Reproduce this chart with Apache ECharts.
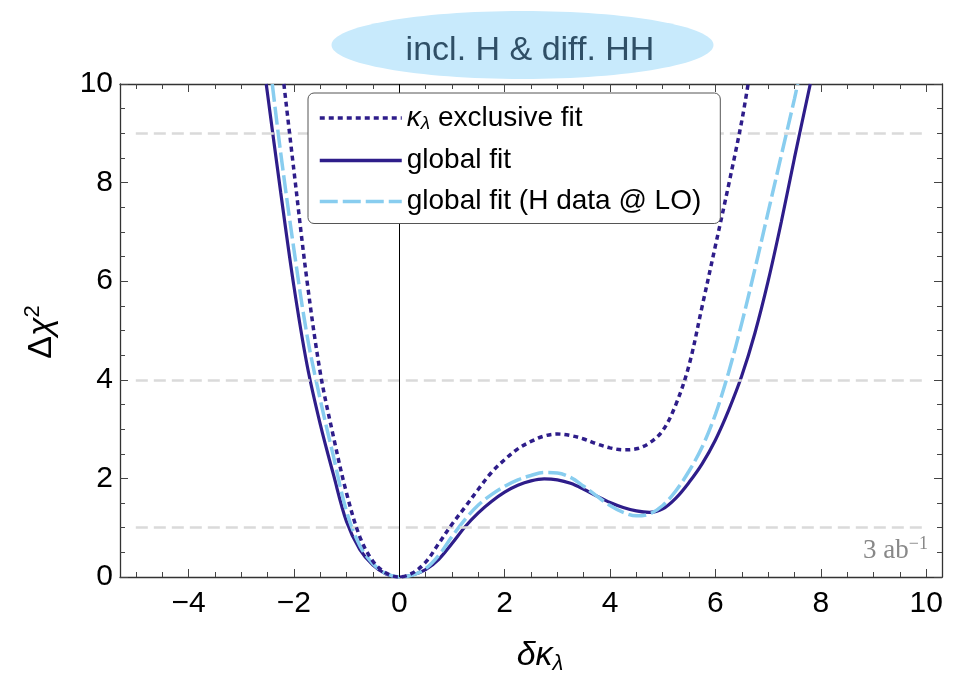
<!DOCTYPE html>
<html>
<head>
<meta charset="utf-8">
<script src="https://cdn.jsdelivr.net/npm/echarts@6/dist/echarts.min.js"></script>
<style>
  html, body { margin: 0; padding: 0; background: #fff; }
  #chart { width: 959px; height: 676px; }
</style>
</head>
<body>
<div id="chart"></div>
<script>
// Δχ² profiles versus δκλ (3 ab⁻¹)
const exclusiveX = [-2.19, -2.0, -1.75, -1.5, -1.25, -1.0, -0.75, -0.5, -0.25, 0, 0.25, 0.5, 0.75, 1.0, 1.25, 1.5, 1.75, 2.0, 2.25, 2.5, 2.75, 3.0, 3.25, 3.5, 3.75, 4.0, 4.25, 4.5, 4.75, 5.0, 5.25, 5.5, 5.75, 6.0, 6.25, 6.5, 6.62];
const exclusiveY = [10, 8.25, 6.0, 4.15, 2.85, 1.7, 0.82, 0.32, 0.08, 0, 0.08, 0.3, 0.68, 1.07, 1.42, 1.78, 2.12, 2.38, 2.6, 2.75, 2.86, 2.9, 2.87, 2.8, 2.7, 2.62, 2.58, 2.6, 2.72, 2.97, 3.5, 4.3, 5.5, 6.72, 7.95, 9.25, 10];

const globalX = [-2.525, -2.5, -2.25, -2.0, -1.75, -1.5, -1.25, -1.0, -0.75, -0.5, -0.25, 0, 0.25, 0.5, 0.75, 1.0, 1.25, 1.5, 1.75, 2.0, 2.25, 2.5, 2.75, 3.0, 3.25, 3.5, 3.75, 4.0, 4.25, 4.5, 4.75, 5.0, 5.25, 5.5, 5.75, 6.0, 6.25, 6.5, 6.75, 7.0, 7.25, 7.5, 7.8];
const globalY = [10, 9.8, 7.8, 5.9, 4.3, 3.1, 2.08, 1.12, 0.56, 0.24, 0.06, 0, 0.04, 0.15, 0.36, 0.68, 1.02, 1.3, 1.53, 1.72, 1.86, 1.95, 1.99, 1.97, 1.9, 1.78, 1.64, 1.51, 1.41, 1.34, 1.31, 1.38, 1.6, 1.92, 2.3, 2.78, 3.38, 4.08, 4.95, 6.0, 7.2, 8.5, 10];

const globalLOX = [-2.41, -2.25, -2.0, -1.75, -1.5, -1.25, -1.0, -0.75, -0.5, -0.25, 0, 0.25, 0.5, 0.75, 1.0, 1.25, 1.5, 1.75, 2.0, 2.25, 2.5, 2.75, 3.0, 3.25, 3.5, 3.75, 4.0, 4.25, 4.5, 4.75, 5.0, 5.25, 5.5, 5.75, 6.0, 6.25, 6.5, 6.75, 7.0, 7.25, 7.5, 7.56];
const globalLOY = [10, 8.6, 6.65, 4.9, 3.6, 2.45, 1.33, 0.64, 0.27, 0.07, 0, 0.04, 0.17, 0.44, 0.82, 1.17, 1.46, 1.67, 1.84, 1.97, 2.06, 2.12, 2.11, 2.02, 1.84, 1.64, 1.45, 1.31, 1.24, 1.28, 1.45, 1.75, 2.15, 2.64, 3.3, 4.15, 5.15, 6.25, 7.4, 8.55, 9.7, 10];

// reference levels (dashed grey)
const refLevels = [1, 4, 9];

// axis ranges and tick labels
const xRange = [-5.3, 10.3];
const yRange = [0, 10];
const xTickLabels = [-4, -2, 0, 2, 4, 6, 8, 10];
const yTickLabels = [0, 2, 4, 6, 8, 10];

const NAVY = '#2e1d8a';
const SKY = '#88cdef';
const FONT = '"Liberation Sans", Arial, Helvetica, sans-serif';

function zip(xs, ys) { return xs.map((x, i) => [x, ys[i]]); }
function steps(a, b, s) { const out = []; for (let v = a; v <= b + 1e-9; v += s) out.push(+v.toFixed(2)); return out; }
const xMinor = steps(-5, 10, 0.5).filter(v => !xTickLabels.includes(v));
const yMinor = steps(0, 10, 0.5).filter(v => !yTickLabels.includes(v));
const minus = v => String(v).replace('-', '\u2212');

function axis(kind, position, ticks, len, withLine, labels) {
  const r = kind === 'x' ? xRange : yRange;
  return {
    type: 'value', position, min: r[0], max: r[1],
    axisLine: { show: withLine, onZero: false, lineStyle: { color: '#333', width: 1.3 } },
    axisTick: { show: true, inside: true, length: len, customValues: ticks, lineStyle: { color: '#444', width: 1 } },
    axisLabel: labels ? {
      show: true, customValues: labels, formatter: minus, fontSize: 30, color: '#000',
      fontFamily: FONT, margin: kind === 'x' ? 12 : 7
    } : { show: false },
    splitLine: { show: false }
  };
}

const curve = (name, xs, ys, color, width, dash, z) => ({
  name, type: 'line', data: zip(xs, ys), smooth: 0.35,
  showSymbol: false, symbol: 'none', z,
  lineStyle: { color, width, type: dash }, itemStyle: { color }
});

const chart = echarts.init(document.getElementById('chart'));
chart.setOption({
  animation: false,
  backgroundColor: '#fff',
  grid: { left: 120, right: 17, top: 84, bottom: 99, containLabel: false },
  xAxis: [
    axis('x', 'bottom', xTickLabels, 8, true, xTickLabels),
    axis('x', 'bottom', xMinor, 5, false, null),
    axis('x', 'top', xTickLabels, 8, true, null),
    axis('x', 'top', xMinor, 5, false, null)
  ],
  yAxis: [
    axis('y', 'left', yTickLabels, 8, true, yTickLabels),
    axis('y', 'left', yMinor, 5, false, null),
    axis('y', 'right', yTickLabels, 8, true, null),
    axis('y', 'right', yMinor, 5, false, null)
  ],
  legend: {
    data: ['excl', 'global', 'globalLO'],
    orient: 'vertical', left: 308, top: 93,
    itemWidth: 82, itemHeight: 14, itemGap: 13,
    padding: [11, 19, 8, 10],
    backgroundColor: '#fff', borderColor: '#555', borderWidth: 1, borderRadius: 6,
    z: 10,
    itemStyle: { opacity: 0, borderWidth: 0 },
    lineStyle: { width: 3.5 },
    formatter: n => ({
      excl: '{k|κ}{s|λ} exclusive fit',
      global: 'global fit',
      globalLO: 'global fit (H data @ LO)'
    })[n],
    textStyle: {
      fontSize: 28, color: '#000', fontFamily: FONT, lineHeight: 28,
      rich: {
        k: { fontSize: 28, fontStyle: 'italic', fontFamily: FONT },
        s: { fontSize: 19, fontStyle: 'italic', fontFamily: FONT, padding: [12, 0, 0, 0] }
      }
    }
  },
  series: [
    {
      name: 'refs', type: 'line', data: [], silent: true, z: 1,
      markLine: {
        silent: true, symbol: 'none', label: { show: false },
        lineStyle: { color: '#dadada', width: 2.5, type: [12, 6] },
        data: refLevels.map(v => [{ coord: [-5, v] }, { coord: [10, v] }])
      }
    },
    {
      name: 'zero', type: 'line', data: [], silent: true, z: 1,
      markLine: {
        silent: true, symbol: 'none', label: { show: false },
        lineStyle: { color: '#000', width: 1, type: 'solid' },
        data: [{ xAxis: 0 }]
      }
    },
    curve('global', globalX, globalY, NAVY, 3.2, 'solid', 3),
    curve('globalLO', globalLOX, globalLOY, SKY, 3.5, [18, 5], 4),
    curve('excl', exclusiveX, exclusiveY, NAVY, 3.5, [5, 4], 5)
  ],
  graphic: [
    { type: 'ellipse', shape: { cx: 522.5, cy: 45, rx: 191, ry: 34 }, style: { fill: '#c8eafc' }, z: 20 },
    { type: 'text', x: 530, y: 51, z: 21,
      style: { text: 'incl. H & diff. HH', fill: '#2f4f66', font: '34px ' + FONT, align: 'center', verticalAlign: 'middle' } },
    { type: 'text', x: 42, y: 332, rotation: Math.PI / 2, z: 21,
      style: {
        text: '{d|Δ}{c|χ}{p|2}', align: 'center', verticalAlign: 'middle', fill: '#000',
        rich: {
          d: { fontSize: 34, fontFamily: FONT, fill: '#000' },
          c: { fontSize: 34, fontFamily: FONT, fontStyle: 'italic', fill: '#000' },
          p: { fontSize: 22, fontFamily: FONT, fill: '#000', padding: [0, 0, 18, 0] }
        }
      } },
    { type: 'text', x: 540, y: 656, z: 21,
      style: {
        text: '{d|δκ}{s|λ}', align: 'center', verticalAlign: 'middle', fill: '#000',
        rich: {
          d: { fontSize: 34, fontFamily: FONT, fontStyle: 'italic', fill: '#000' },
          s: { fontSize: 22, fontFamily: FONT, fontStyle: 'italic', fill: '#000', padding: [16, 0, 0, 0] }
        }
      } },
    { type: 'text', x: 928, y: 551, z: 21,
      style: {
        text: '{n|3 ab}{p|\u22121}', align: 'right', verticalAlign: 'middle',
        rich: {
          n: { fontSize: 27, fontFamily: '"Liberation Serif", "Times New Roman", serif', fill: '#888' },
          p: { fontSize: 18, fontFamily: '"Liberation Serif", "Times New Roman", serif', fill: '#888', padding: [0, 0, 14, 0] }
        }
      } }
  ]
});
</script>
</body>
</html>
